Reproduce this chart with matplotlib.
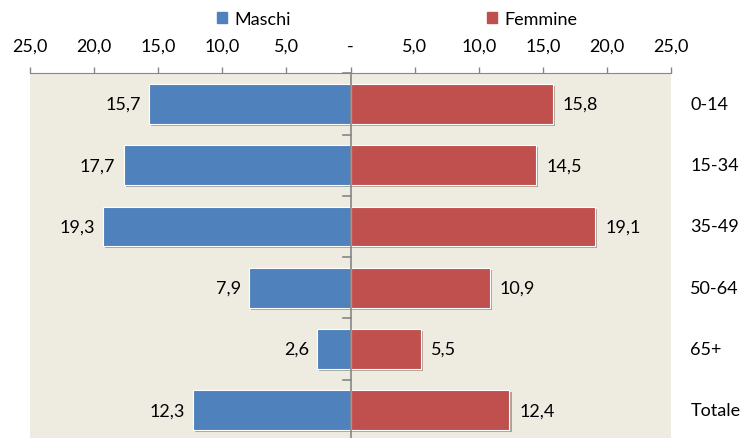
import matplotlib.pyplot as plt
import matplotlib.patheffects as pe
from matplotlib.patches import Patch
import numpy as np

# dati
classi = ['0-14', '15-34', '35-49', '50-64', '65+', 'Totale']
maschi = [15.7, 17.7, 19.3, 7.9, 2.6, 12.3]
femmine = [15.8, 14.5, 19.1, 10.9, 5.5, 12.4]
ticks = [-25, -20, -15, -10, -5, 0, 5, 10, 15, 20, 25]

blu = '#4F81BD'
rosso = '#C0504D'
grigio = '#868686'

plt.rcParams['font.family'] = ['Lato', 'DejaVu Sans']
fs = 13

def fmt(v):
    if v == 0:
        return '-'
    return '{:.1f}'.format(abs(v)).replace('.', ',')

fig = plt.figure(figsize=(7.47, 4.39), dpi=100)
ax = fig.add_axes([30 / 747, -0.0064, 641 / 747, 0.837])
ax.set_facecolor('#EEECE1')

y = np.arange(len(classi))
ombra = [pe.SimplePatchShadow(offset=(1.5, -1.5), alpha=0.35), pe.Normal()]
bm = ax.barh(y, [-v for v in maschi], height=0.65, color=blu,
             edgecolor='white', linewidth=0.8, path_effects=ombra)
bf = ax.barh(y, femmine, height=0.65, color=rosso,
             edgecolor='white', linewidth=0.8, path_effects=ombra)

for i in range(len(classi)):
    ax.annotate(fmt(maschi[i]), (-maschi[i], y[i]), xytext=(-6, 0),
                textcoords='offset points', ha='right', va='center', fontsize=fs)
    ax.annotate(fmt(femmine[i]), (femmine[i], y[i]), xytext=(7, 0),
                textcoords='offset points', ha='left', va='center', fontsize=fs)
    ax.annotate(classi[i], (1, y[i]), xycoords=('axes fraction', 'data'),
                xytext=(14, 0), textcoords='offset points',
                ha='left', va='center', fontsize=fs)

ax.set_xlim(-25, 25)
ax.set_ylim(5.5, -0.5)
ax.xaxis.tick_top()
ax.set_xticks(ticks)
ax.set_xticklabels([fmt(t) for t in ticks], fontsize=fs)
ax.tick_params(axis='x', direction='out', length=4, color=grigio, width=1, pad=10)
ax.set_yticks([])

for s in ['left', 'right', 'bottom']:
    ax.spines[s].set_visible(False)
ax.spines['top'].set_color(grigio)

# asse centrale con tacche
ax.axvline(0, color=grigio, linewidth=1.2, zorder=5)
for b in np.arange(-0.5, 6, 1):
    ax.plot([-0.55, 0], [b, b], color=grigio, linewidth=1.2, zorder=5, clip_on=False)

fig.legend(handles=[Patch(color=blu, label='Maschi')], loc='center',
           bbox_to_anchor=(254 / 747, 1 - 20 / 439), frameon=False,
           fontsize=fs, handlelength=0.55, handleheight=0.55, handletextpad=0.4,
           borderpad=0)
fig.legend(handles=[Patch(color=rosso, label='Femmine')], loc='center',
           bbox_to_anchor=(532 / 747, 1 - 20 / 439), frameon=False,
           fontsize=fs, handlelength=0.55, handleheight=0.55, handletextpad=0.4,
           borderpad=0)

fig.savefig('out.png', dpi=100)
